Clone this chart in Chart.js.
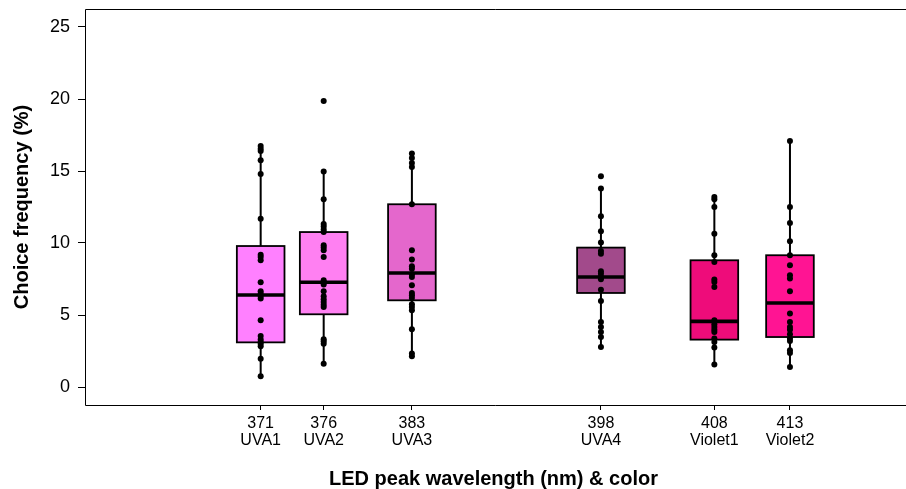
<!DOCTYPE html>
<html>
<head>
<meta charset="utf-8">
<title>Choice frequency by LED</title>
<script src="https://cdn.jsdelivr.net/npm/chart.js@4"></script>
<style>
  body { margin: 0; background: #fff; overflow: hidden; }
  #wrap { width: 906px; height: 489px; }
</style>
</head>
<body>
<div id="wrap"><canvas id="ledChart"></canvas></div>
<script>
// wavelength labels, LED names and where each box sits on the x axis (nm)
const wavelengths = ['371', '376', '383', '398', '408', '413'];
const ledNames = ['UVA1', 'UVA2', 'UVA3', 'UVA4', 'Violet1', 'Violet2'];
const xPos = [371, 376, 383, 398, 407, 413];

// box stats
const q1 = [3.10, 5.05, 6.02, 6.53, 3.29, 3.47];
const medians = [6.39, 7.27, 7.92, 7.64, 4.56, 5.83];
const q3 = [9.79, 10.76, 12.69, 9.68, 8.80, 9.15];
const whiskerLow = [0.74, 1.62, 2.13, 2.78, 1.56, 1.39];
const whiskerHigh = [16.74, 14.96, 16.21, 13.78, 13.19, 17.08];

// individual observations (%)
const uva1 = [16.74, 16.55, 16.39, 15.74, 14.79, 11.69, 9.19, 9.03, 8.80, 7.27, 6.65, 6.48,
  6.32, 6.14, 4.63, 3.54, 3.29, 3.13, 3.01, 2.83, 1.97, 0.74];
const uva2 = [19.86, 14.96, 13.03, 11.32, 11.14, 10.93, 10.76, 9.84, 9.68, 9.49, 9.03, 7.41,
  7.25, 7.11, 6.65, 6.30, 6.09, 5.90, 5.72, 5.56, 3.31, 3.17, 3.01, 1.62];
const uva3 = [16.21, 15.90, 15.55, 15.28, 12.69, 9.49, 8.85, 8.38, 8.22, 7.83, 7.64, 7.06,
  6.53, 6.37, 6.18, 5.74, 5.56, 5.33, 4.01, 2.32, 2.13];
const uva4 = [14.63, 13.78, 11.85, 10.81, 10.03, 9.44, 9.26, 8.03, 7.87, 7.64, 7.48, 6.76,
  5.97, 4.51, 4.17, 3.82, 3.47, 2.78];
const violet1 = [13.19, 13.03, 12.50, 10.65, 9.15, 8.68, 7.46, 7.29, 6.94, 4.63, 4.35, 4.17,
  3.98, 3.82, 3.36, 3.13, 2.74, 1.56];
const violet2 = [17.08, 12.50, 11.39, 10.12, 9.15, 8.45, 7.76, 7.53, 6.65, 5.10, 4.51, 4.17,
  3.98, 3.66, 3.36, 3.19, 2.55, 2.36, 1.39];
const groups = [uva1, uva2, uva3, uva4, violet1, violet2];

const yTicks = [0, 5, 10, 15, 20, 25];

const boxColors = ['#FF80FF', '#FF80F2', '#E467CC', '#A24A8B', '#EE0C7A', '#FF1493'];
const boxWidth = 3.78; // nm
const FONT = "'Liberation Sans', Arial, sans-serif";

const boxPlugin = {
  id: 'boxes',
  beforeDatasetsDraw(chart) {
    const { ctx, scales: { x, y } } = chart;
    ctx.save();
    ctx.strokeStyle = '#000';
    xPos.forEach((pos, i) => {
      const cx = x.getPixelForValue(pos);
      const left = x.getPixelForValue(pos - boxWidth / 2);
      const right = x.getPixelForValue(pos + boxWidth / 2);
      const top = y.getPixelForValue(q3[i]);
      const bottom = y.getPixelForValue(q1[i]);
      // whiskers
      ctx.lineWidth = 2;
      ctx.beginPath();
      ctx.moveTo(cx, y.getPixelForValue(whiskerHigh[i]));
      ctx.lineTo(cx, top);
      ctx.moveTo(cx, bottom);
      ctx.lineTo(cx, y.getPixelForValue(whiskerLow[i]));
      ctx.stroke();
      // box
      ctx.fillStyle = boxColors[i];
      ctx.fillRect(left, top, right - left, bottom - top);
      ctx.lineWidth = 1.8;
      ctx.strokeRect(left, top, right - left, bottom - top);
      // median
      const my = y.getPixelForValue(medians[i]);
      ctx.lineWidth = 3.6;
      ctx.beginPath();
      ctx.moveTo(left, my);
      ctx.lineTo(right, my);
      ctx.stroke();
    });
    ctx.restore();
  },
  afterDraw(chart) {
    // panel frame: left, top and bottom (right edge falls outside the picture)
    const { ctx, chartArea: a } = chart;
    ctx.save();
    ctx.strokeStyle = '#000';
    ctx.lineWidth = 1;
    ctx.beginPath();
    ctx.moveTo(chart.width, a.top + 0.5);
    ctx.lineTo(a.left + 0.5, a.top + 0.5);
    ctx.lineTo(a.left + 0.5, a.bottom + 0.5);
    ctx.lineTo(chart.width, a.bottom + 0.5);
    ctx.stroke();
    ctx.restore();
  }
};

const datasets = groups.map((vals, i) => ({
  label: ledNames[i],
  data: vals.map(v => ({ x: xPos[i], y: v })),
  backgroundColor: '#000',
  borderColor: '#000',
  pointRadius: 3,
  pointBorderWidth: 0
}));

new Chart(document.getElementById('ledChart'), {
  type: 'scatter',
  data: { datasets },
  plugins: [boxPlugin],
  options: {
    responsive: true,
    maintainAspectRatio: false,
    animation: false,
    layout: { padding: { top: 9, right: 0, left: 0, bottom: 0 } },
    plugins: {
      legend: { display: false },
      tooltip: { enabled: false }
    },
    scales: {
      x: {
        type: 'linear',
        min: 357.06,
        max: 421.89,
        afterFit(scale) {
          scale.height = 84;
          scale.paddingLeft = 0;
          scale.paddingRight = 0;
        },
        afterBuildTicks(scale) { scale.ticks = xPos.map(v => ({ value: v })); },
        grid: { display: true, drawOnChartArea: false, tickLength: 5, color: '#000', lineWidth: 1 },
        border: { display: false },
        ticks: {
          color: '#000',
          padding: 5,
          maxRotation: 0,
          autoSkip: false,
          font: { family: FONT, size: 16, lineHeight: 1.08 },
          callback(value) {
            const i = xPos.indexOf(value);
            return i < 0 ? '' : [wavelengths[i], ledNames[i]];
          }
        },
        title: {
          display: true,
          text: 'LED peak wavelength (nm) & color',
          color: '#000',
          padding: 0,
          font: { family: FONT, size: 20, weight: 'bold', lineHeight: 1 }
        }
      },
      y: {
        min: -1.25,
        max: 26.25,
        afterFit(scale) {
          scale.width = 85;
          scale.paddingTop = 0;
          scale.paddingBottom = 0;
        },
        afterBuildTicks(scale) { scale.ticks = yTicks.map(v => ({ value: v })); },
        grid: { display: true, drawOnChartArea: false, tickLength: 7, color: '#000', lineWidth: 1 },
        border: { display: false },
        ticks: {
          color: '#000',
          padding: 8,
          font: { family: FONT, size: 18 }
        },
        title: {
          display: true,
          text: 'Choice frequency (%)',
          color: '#000',
          padding: { top: 10, bottom: 0 },
          font: { family: FONT, size: 20, weight: 'bold', lineHeight: 1.2 }
        }
      }
    }
  }
});
</script>
</body>
</html>
